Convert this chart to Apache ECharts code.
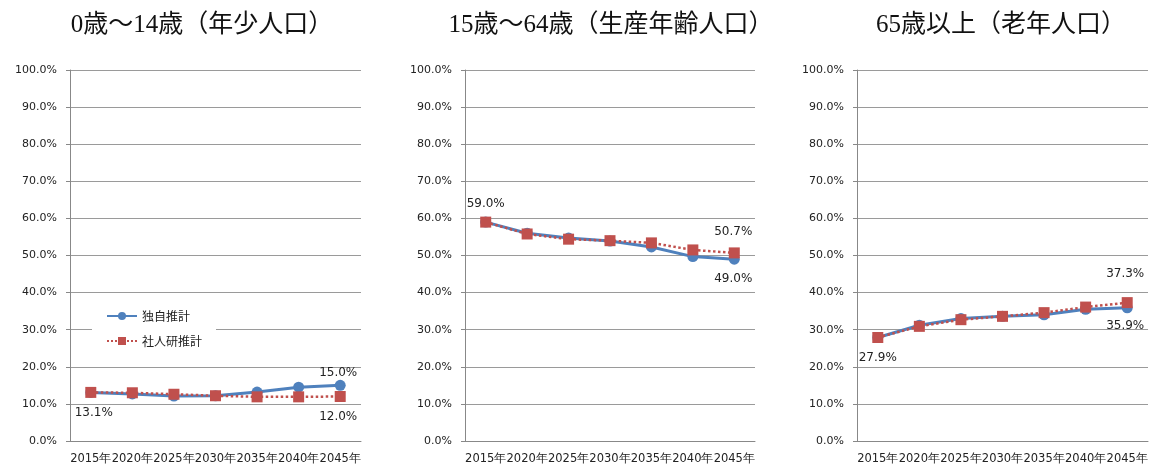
<!DOCTYPE html>
<html>
<head>
<meta charset="utf-8">
<script src="https://cdn.jsdelivr.net/npm/echarts@6/dist/echarts.min.js"></script>
<style>
  html, body { margin: 0; padding: 0; background: #fff; }
  #main { width: 1156px; height: 468px; }
</style>
</head>
<body>
<div id="main"></div>
<script>
var years = ['2015年', '2020年', '2025年', '2030年', '2035年', '2040年', '2045年'];
var titles = ['0歳～14歳（年少人口）', '15歳～64歳（生産年齢人口）', '65歳以上（老年人口）'];
var seriesNames = ['独自推計', '社人研推計'];

// 独自推計 / 社人研推計 (%)
var young_own = [13.1, 12.7, 12.1, 12.2, 13.2, 14.5, 15.0];
var young_ipss = [13.1, 13.0, 12.6, 12.2, 11.9, 11.9, 12.0];
var work_own = [59.0, 56.0, 54.7, 53.9, 52.3, 49.7, 49.0];
var work_ipss = [59.0, 55.8, 54.4, 54.0, 53.4, 51.5, 50.7];
var old_own = [27.9, 31.2, 33.0, 33.6, 34.0, 35.5, 35.9];
var old_ipss = [27.9, 30.9, 32.7, 33.6, 34.6, 36.1, 37.3];

var myChart = echarts.init(document.getElementById('main'));

var grids = [
  { left: 70, top: 70, width: 291, height: 371 },
  { left: 465, top: 70, width: 290, height: 371 },
  { left: 857, top: 70, width: 291, height: 371 }
];
var titleX = [197, 606, 996];

var blue = '#4F81BD';
var red = '#C0504D';
var font = 'DejaVu Sans, Verdana, sans-serif';

function pct(p) { return p.value.toFixed(1) + '%'; }

// value label on a single point
function lab(v, offset) {
  return {
    value: v,
    label: { show: true, position: 'inside', offset: offset, formatter: pct,
      fontFamily: font, fontSize: 12, color: '#222' }
  };
}

function lineOwn(gi, data) {
  return {
    name: seriesNames[0], type: 'line', xAxisIndex: gi, yAxisIndex: gi,
    data: data, symbol: 'circle', symbolSize: 11,
    lineStyle: { color: blue, width: 3 }, itemStyle: { color: blue },
    z: 2
  };
}
function lineIpss(gi, data) {
  return {
    name: seriesNames[1], type: 'line', xAxisIndex: gi, yAxisIndex: gi,
    data: data, symbol: 'rect', symbolSize: 11,
    lineStyle: { color: red, width: 2.5, type: 'dotted' }, itemStyle: { color: red },
    z: 3
  };
}

var xAxes = [], yAxes = [];
for (var i = 0; i < 3; i++) {
  xAxes.push({
    type: 'category', gridIndex: i, data: years, boundaryGap: true,
    axisLine: { lineStyle: { color: '#888' } },
    axisTick: { length: 5, lineStyle: { color: '#888' } },
    axisLabel: { interval: 0, margin: 12, color: '#222', fontSize: 11.5, fontFamily: font }
  });
  yAxes.push({
    type: 'value', gridIndex: i, min: 0, max: 100, interval: 10,
    axisLine: { show: true, lineStyle: { color: '#888' } },
    axisTick: { show: true, length: 4, lineStyle: { color: '#888' } },
    splitLine: { lineStyle: { color: '#9a9a9a' } },
    axisLabel: {
      margin: 13, color: '#222', fontSize: 11, fontFamily: font,
      formatter: function (v) { return v.toFixed(1) + '%'; }
    }
  });
}

var d0 = young_own.slice(); d0[0] = lab(d0[0], [3, 20]); d0[6] = lab(d0[6], [-2, -12]);
var d1 = young_ipss.slice(); d1[6] = lab(d1[6], [-2, 20]);
var d2 = work_own.slice(); d2[6] = lab(d2[6], [-1, 20]);
var d3 = work_ipss.slice(); d3[0] = lab(d3[0], [0, -18]); d3[6] = lab(d3[6], [-1, -21]);
var d4 = old_own.slice(); d4[6] = lab(d4[6], [-2, 18]);
var d5 = old_ipss.slice(); d5[0] = lab(d5[0], [0, 20]); d5[6] = lab(d5[6], [-2, -29]);

var option = {
  animation: false,
  backgroundColor: '#fff',
  title: titles.map(function (t, i) {
    return {
      text: t, left: titleX[i], top: 8, textAlign: 'center',
      textStyle: { fontFamily: 'Liberation Serif, Noto Sans CJK JP, serif', fontSize: 25, fontWeight: 'normal', color: '#111' }
    };
  }),
  legend: {
    data: seriesNames, orient: 'vertical', left: 92, top: 306,
    itemWidth: 30, itemHeight: 10, itemGap: 13,
    backgroundColor: '#fff', padding: [4, 14, 4, 14],
    textStyle: { fontFamily: 'Noto Sans CJK JP, sans-serif', fontSize: 12, color: '#222' }
  },
  grid: grids,
  xAxis: xAxes,
  yAxis: yAxes,
  series: [
    lineOwn(0, d0), lineIpss(0, d1),
    lineOwn(1, d2), lineIpss(1, d3),
    lineOwn(2, d4), lineIpss(2, d5)
  ]
};

myChart.setOption(option);
</script>
</body>
</html>
